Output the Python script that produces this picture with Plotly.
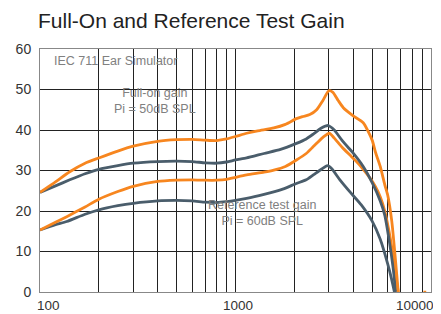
import plotly.graph_objects as go

# ---- data ----
full_on_orange_freq = [100, 120, 142, 170, 200, 250, 300, 400, 500, 600, 700, 800, 900, 1000, 1140, 1300,
                       1570, 1800, 2050, 2200, 2400, 2600, 2800, 3000, 3150, 3350, 3560, 4000, 4500, 5000,
                       5200, 5500, 5800, 6000, 6300, 6550, 6800, 7300, 9000, 9300]
full_on_orange_gain = [24.6, 27.2, 29.7, 31.8, 33.1, 34.8, 36.0, 37.2, 37.6, 37.7, 37.5, 37.4, 37.8, 38.4, 39.2, 39.8,
                       40.5, 41.4, 42.8, 43.3, 43.8, 45.0, 47.3, 49.7, 49.3, 47.3, 45.5, 43.5, 41.8, 37.5,
                       34.5, 31.0, 26.5, 24.0, 17.5, 9.0, 0.0, -15.0, -8.0, 0.3]

full_on_dark_freq = [100, 120, 142, 170, 200, 250, 300, 400, 500, 600, 700, 800, 900, 1000, 1140, 1400,
                     1700, 2050, 2300, 2500, 2750, 2980, 3200, 3500, 3800, 4000, 4500, 5000, 5500, 5800,
                     6100, 6400, 6600]
full_on_dark_gain = [24.6, 26.2, 27.7, 29.2, 30.3, 31.2, 31.8, 32.2, 32.3, 32.2, 31.9, 31.8, 32.1, 32.6, 33.1, 34.2,
                     35.2, 36.7, 37.8, 39.0, 40.5, 41.1, 40.0, 37.5, 35.5, 34.3, 31.0, 27.0, 22.5, 19.0,
                     13.0, 6.0, 0.0]

ref_orange_freq = [100, 120, 137, 170, 200, 250, 300, 400, 500, 600, 700, 800, 900, 1000, 1140, 1400,
                   1570, 1800, 2050, 2300, 2500, 2800, 3020, 3200, 3500, 3850, 4100, 4500, 4900, 5200,
                   5500, 5800, 6100, 6300, 6600, 6800]
ref_orange_gain = [15.3, 17.2, 18.6, 21.0, 22.9, 24.8, 26.1, 27.3, 27.6, 27.7, 27.6, 27.6, 27.8, 28.3, 28.9, 29.6,
                   30.1, 31.0, 32.6, 34.2, 35.9, 38.2, 39.2, 38.0, 35.8, 33.8, 32.5, 30.3, 28.0, 26.0,
                   23.5, 20.0, 15.0, 11.0, 4.0, 0.0]

ref_dark_freq = [100, 120, 137, 170, 200, 250, 300, 400, 500, 600, 700, 800, 900, 1000, 1140, 1400,
                 1700, 2050, 2300, 2500, 2750, 2950, 3100, 3420, 3900, 4400, 5000, 5500, 6000, 6300, 6500]
ref_dark_gain = [15.3, 16.6, 17.4, 19.2, 20.3, 21.3, 21.9, 22.5, 22.6, 22.5, 22.2, 22.1, 22.3, 22.6, 23.1, 24.1,
                 25.2, 26.8, 27.7, 28.9, 30.3, 31.2, 30.5, 27.7, 24.4, 21.5, 17.5, 13.0, 7.0, 3.0, 0.0]

x_grid_vals = [100, 200, 300, 400, 500, 600, 700, 800, 900,
               1000, 2000, 3000, 4000, 5000, 6000, 7000, 8000, 9000, 10000]
x_tick_vals = [100, 1000, 10000]
x_tick_labels = ["100", "1000", "10000"]
y_tick_vals = [0, 10, 20, 30, 40, 50, 60]

title_text = "Full-On and Reference Test Gain"
note_sim = "IEC 711 Ear Simulator"
note_full = "Full-on gain<br>Pi = 50dB SPL"
note_ref = "Reference test gain<br>Pi = 60dB SPL"

ORANGE = "#F7861F"
DARK = "#4A5D6B"
FONT = "Liberation Sans, Arial, sans-serif"

# the page body has an 8px default margin: the figure is sized to fill the rest of the window
OFF = 8
W, H = 441 - OFF, 314 - OFF

fig = go.Figure()
for fx, gy, col in [(ref_dark_freq, ref_dark_gain, DARK),
                    (ref_orange_freq, ref_orange_gain, ORANGE),
                    (full_on_dark_freq, full_on_dark_gain, DARK),
                    (full_on_orange_freq, full_on_orange_gain, ORANGE)]:
    fig.add_trace(go.Scatter(x=fx, y=gy, mode="lines",
                             line=dict(color=col, width=2.8, shape="spline", smoothing=0.6),
                             showlegend=False, hoverinfo="skip"))

fig.update_layout(
    width=W, height=H,
    margin=dict(l=40 - OFF, r=10, t=49 - OFF, b=22, autoexpand=False),
    paper_bgcolor="white", plot_bgcolor="white",
    font=dict(family=FONT, color="#333"),
    title=dict(text=title_text, x=(38 - OFF) / W, xanchor="left", xref="container",
               y=1 - (21 - OFF) / H, yanchor="middle", yref="container",
               font=dict(size=21, color="#222", family=FONT)),
    showlegend=False,
)

fig.update_xaxes(type="log", range=[2, 4], tickvals=x_grid_vals, showticklabels=False,
                 showgrid=True, gridcolor="#222", gridwidth=1, zeroline=False,
                 showline=True, linecolor="#888", linewidth=1, mirror=True, ticks="")
fig.update_yaxes(range=[0, 60], tickvals=y_tick_vals, showgrid=True, gridcolor="#222", gridwidth=1,
                 zeroline=False, showline=True, linecolor="#888", linewidth=1, mirror=True,
                 ticks="outside", ticklen=5, tickcolor="rgba(0,0,0,0)",
                 tickfont=dict(size=14, color="#333", family=FONT))

# x-axis tick labels (edge labels kept inside the figure as in the reference)
anchors = ["left", "center", "right"]
shifts = [-5, 2, 5]
log_pos = [2, 3, 4]
for p, lab, a, s in zip(log_pos, x_tick_labels, anchors, shifts):
    fig.add_annotation(x=p, y=0, xref="x", yref="paper",
                       text=lab, showarrow=False, xanchor=a, yanchor="top", xshift=s, yshift=-4,
                       font=dict(size=13.5, color="#333", family=FONT))

note_font = dict(size=12.5, color="#808080", family=FONT)
fig.add_annotation(x=2.06, y=57.1, xref="x", yref="y", text=note_sim, showarrow=False,
                   xanchor="left", yanchor="middle", font=note_font)
fig.add_annotation(x=2.588, y=47.1, xref="x", yref="y", text=note_full, showarrow=False,
                   xanchor="center", yanchor="middle", align="center", font=note_font)
fig.add_annotation(x=3.1355, y=19.6, xref="x", yref="y", text=note_ref, showarrow=False,
                   xanchor="center", yanchor="middle", align="center", font=note_font)

fig.write_html("out.html")
